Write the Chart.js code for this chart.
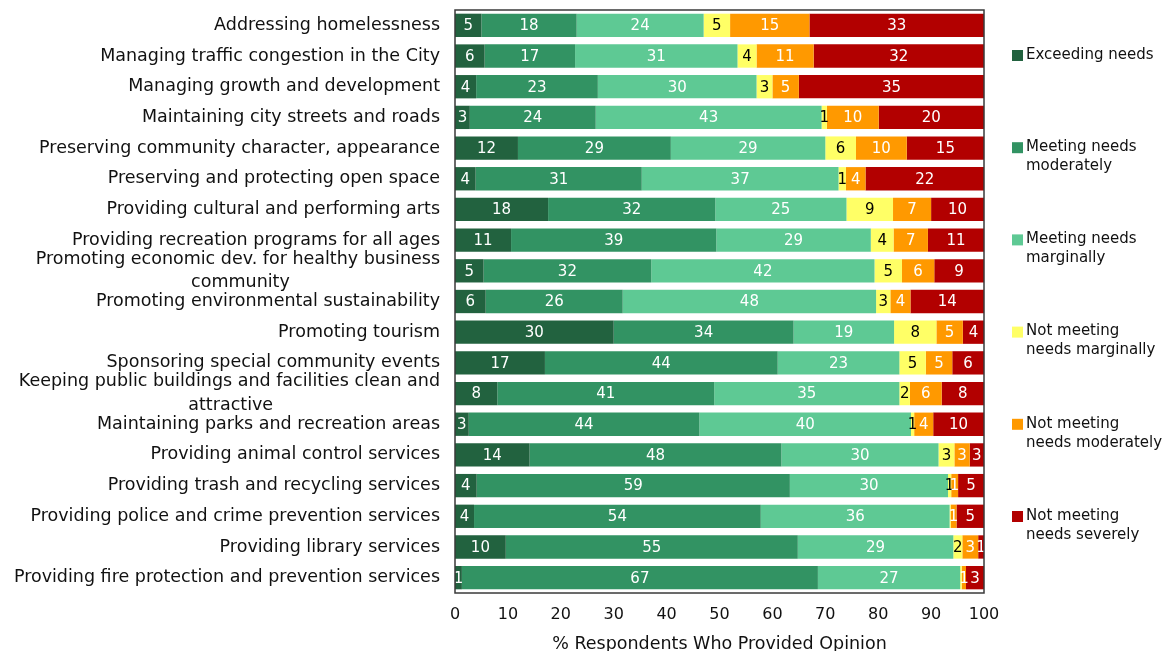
<!DOCTYPE html>
<html>
<head>
<meta charset="utf-8">
<script src="https://cdn.jsdelivr.net/npm/chart.js@4.4.1/dist/chart.umd.min.js"></script>
<style>
html, body { margin: 0; padding: 0; background: #fff; }
#wrap { width: 1164px; height: 651px; }
</style>
</head>
<body>
<div id="wrap"><canvas id="chart1"></canvas></div>
<script>
// Service categories, top to bottom
const categories = [
    "Addressing homelessness",
    "Managing traffic congestion in the City",
    "Managing growth and development",
    "Maintaining city streets and roads",
    "Preserving community character, appearance",
    "Preserving and protecting open space",
    "Providing cultural and performing arts",
    "Providing recreation programs for all ages",
    ["Promoting economic dev. for healthy business", "community"],
    "Promoting environmental sustainability",
    "Promoting tourism",
    "Sponsoring special community events",
    ["Keeping public buildings and facilities clean and", "attractive"],
    "Maintaining parks and recreation areas",
    "Providing animal control services",
    "Providing trash and recycling services",
    "Providing police and crime prevention services",
    "Providing library services",
    "Providing fire protection and prevention services"
];

// % of respondents, one array per answer
const exceedingNeeds =        [5, 5.6, 4, 2.8, 11.9, 3.9, 17.6, 10.6, 5.4, 5.8, 30, 17, 8, 2.6, 14.1, 4.1, 3.6, 9.6, 1.3];
const meetingModerately =     [18, 17.1, 23, 23.8, 28.9, 31.4, 31.6, 38.8, 31.7, 25.9, 34, 44, 41, 43.6, 47.6, 59.2, 54.2, 55.2, 67.3];
const meetingMarginally =     [24, 30.7, 30, 42.7, 29.2, 37.2, 24.8, 29.2, 42.2, 47.9, 19, 23, 35, 40.0, 29.7, 29.9, 35.7, 29.4, 26.9];
const notMeetingMarginally =  [5, 3.6, 3, 1.0, 5.8, 1.4, 8.8, 4.3, 5.2, 2.7, 8, 5, 2, 0.6, 3.0, 0.6, 0.2, 1.7, 0.3];
const notMeetingModerately =  [15, 10.8, 5, 9.8, 9.6, 3.7, 7.2, 6.5, 6.1, 3.8, 5, 5, 6, 3.6, 2.9, 1.3, 1.1, 3.0, 0.8];
const notMeetingSeverely =    [33, 32.2, 35, 19.9, 14.6, 22.4, 10.0, 10.6, 9.4, 13.9, 4, 6, 8, 9.6, 2.7, 4.9, 5.2, 1.1, 3.4];

const xTicks = [0, 10, 20, 30, 40, 50, 60, 70, 80, 90, 100];

const FONT = "'DejaVu Sans', Verdana, sans-serif";
const LABEL_FONT = "17.5px " + FONT;

// Legend names are split over lines like the original
const seriesInfo = [
    { label: ["Exceeding needs"], data: exceedingNeeds, color: "#22623f", text: "#fff" },
    { label: ["Meeting needs", "moderately"], data: meetingModerately, color: "#329363", text: "#fff" },
    { label: ["Meeting needs", "marginally"], data: meetingMarginally, color: "#5ec994", text: "#fff" },
    { label: ["Not meeting", "needs marginally"], data: notMeetingMarginally, color: "#ffff66", text: "#000" },
    { label: ["Not meeting", "needs moderately"], data: notMeetingModerately, color: "#ff9900", text: "#fff" },
    { label: ["Not meeting", "needs severely"], data: notMeetingSeverely, color: "#b20000", text: "#fff" }
];

// Wrapped category names are centred under their first line,
// so pad the shorter lines with trailing spaces
const measureCtx = document.createElement("canvas").getContext("2d");
measureCtx.font = LABEL_FONT;
function centerLines(label) {
    if (!Array.isArray(label)) return label;
    const w0 = measureCtx.measureText(label[0]).width;
    const sp = measureCtx.measureText(" ").width;
    return label.map((l) => {
        const n = Math.round((w0 - measureCtx.measureText(l).width) / 2 / sp);
        return l + " ".repeat(Math.max(0, n));
    });
}

// Numbers inside the bars
const barLabels = {
    id: "barLabels",
    afterDatasetsDraw(chart) {
        const ctx = chart.ctx;
        ctx.save();
        ctx.font = "15px " + FONT;
        ctx.textAlign = "center";
        ctx.textBaseline = "middle";
        chart.data.datasets.forEach((ds, i) => {
            const meta = chart.getDatasetMeta(i);
            meta.data.forEach((bar, j) => {
                const v = ds.data[j];
                if (v < 0.5) return;
                ctx.fillStyle = seriesInfo[i].text;
                ctx.fillText(String(Math.round(v)), (bar.x + bar.base) / 2, bar.y + 1);
            });
        });
        ctx.restore();
    }
};

// Frame round the plot and the legend on the right
const frameAndLegend = {
    id: "frameAndLegend",
    afterDraw(chart) {
        const ctx = chart.ctx;
        const a = chart.chartArea;
        ctx.save();
        ctx.strokeStyle = "#3a3a3a";
        ctx.lineWidth = 1.5;
        ctx.strokeRect(a.left, a.top, a.right - a.left, a.bottom - a.top);

        ctx.font = "15px " + FONT;
        ctx.textAlign = "left";
        ctx.textBaseline = "middle";
        const x = a.right + 28;
        let y = a.top + 45;
        seriesInfo.forEach((s) => {
            ctx.fillStyle = s.color;
            ctx.fillRect(x, y - 5, 11, 11);
            ctx.fillStyle = "#111";
            s.label.forEach((line, k) => {
                ctx.fillText(line, x + 14, y + k * 19);
            });
            y += 92.2;
        });
        ctx.restore();
    }
};

const chartData = {
    labels: categories,
    datasets: seriesInfo.map((s) => ({
        label: s.label.join(" "),
        data: s.data,
        backgroundColor: s.color,
        borderWidth: 0,
        barPercentage: 0.76,
        categoryPercentage: 1
    }))
};

const chartConfig = {
    type: "bar",
    data: chartData,
    options: {
        indexAxis: "y",
        responsive: true,
        maintainAspectRatio: false,
        animation: false,
        layout: {
            padding: { top: 10, right: 180, left: 0, bottom: 0 }
        },
        plugins: {
            legend: { display: false },
            tooltip: { enabled: false }
        },
        scales: {
            x: {
                stacked: true,
                min: 0,
                max: 100,
                afterBuildTicks: (scale) => {
                    scale.ticks = xTicks.map((v) => ({ value: v }));
                },
                afterFit: (scale) => { scale.height = 58; },
                grid: { display: false },
                border: { display: false },
                ticks: {
                    color: "#111",
                    font: { family: FONT, size: 16 },
                    padding: 4
                },
                title: {
                    display: true,
                    text: "% Respondents Who Provided Opinion",
                    color: "#111",
                    font: { family: FONT, size: 17.5 },
                    padding: { top: 16, bottom: -4 }
                }
            },
            y: {
                stacked: true,
                afterFit: (scale) => {
                    scale.width = 455;
                    scale.paddingTop = 0;
                    scale.paddingBottom = 0;
                },
                grid: { display: false },
                border: { display: false },
                ticks: {
                    color: "#111",
                    font: { family: FONT, size: 17.5, lineHeight: 1.35 },
                    padding: 7,
                    autoSkip: false,
                    callback: function (value) {
                        return centerLines(this.getLabelForValue(value));
                    }
                }
            }
        }
    },
    plugins: [barLabels, frameAndLegend]
};

new Chart(document.getElementById("chart1"), chartConfig);
</script>
</body>
</html>
